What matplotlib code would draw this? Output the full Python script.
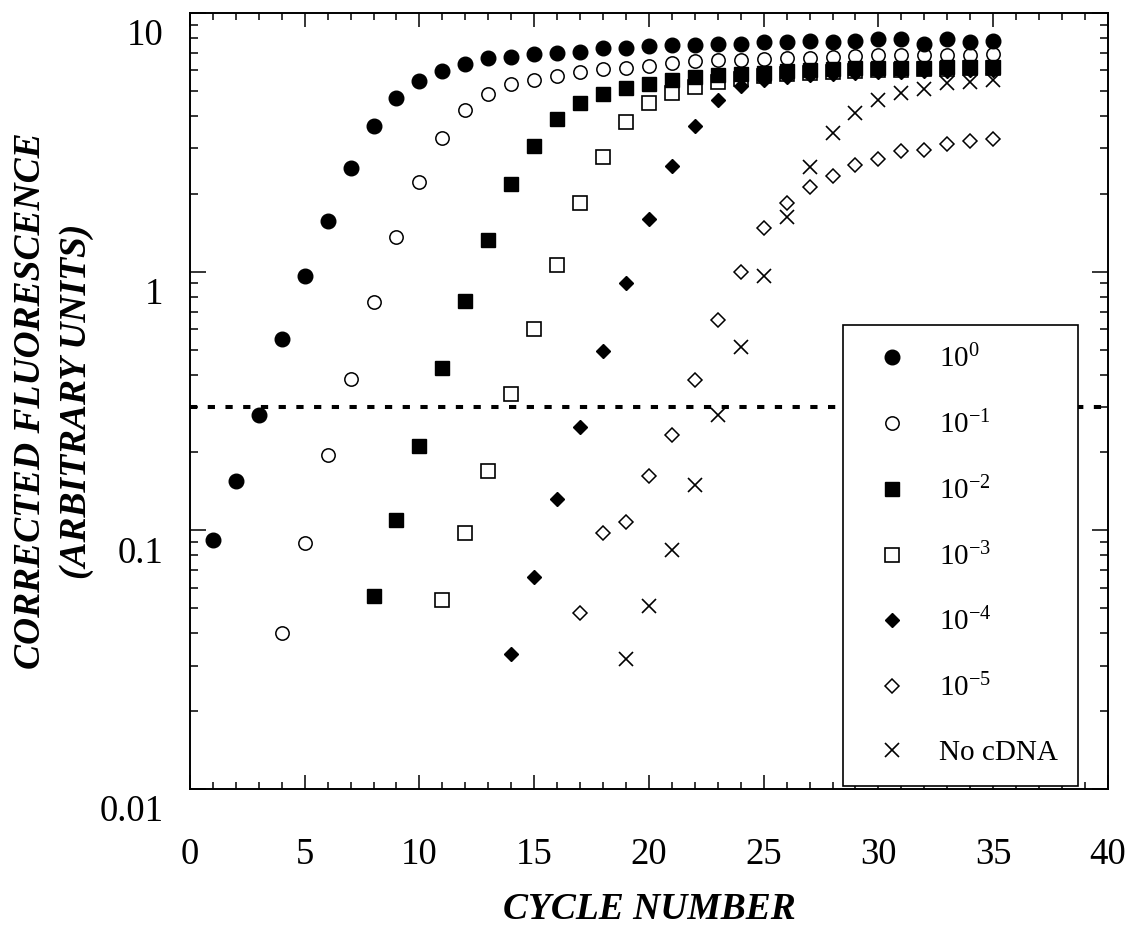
import matplotlib
matplotlib.use('Agg')
import matplotlib.pyplot as plt
from matplotlib.ticker import LogLocator, MultipleLocator, NullFormatter
from matplotlib.transforms import ScaledTranslation

plt.rcParams['font.family'] = ['Liberation Serif', 'DejaVu Serif']
plt.rcParams['mathtext.fontset'] = 'custom'
plt.rcParams['mathtext.rm'] = 'Liberation Serif'
plt.rcParams['mathtext.it'] = 'Liberation Serif:italic'
plt.rcParams['mathtext.bf'] = 'Liberation Serif:bold'

# dilution series, fluorescence per cycle
cyc_0 = list(range(1, 36))
fl_0 = [0.092, 0.155, 0.28, 0.55, 0.965, 1.57, 2.52, 3.66, 4.70, 5.46, 5.97, 6.35,
        6.7, 6.77, 6.95, 7.0, 7.07, 7.3, 7.35, 7.44, 7.5, 7.5, 7.6, 7.6, 7.75, 7.7,
        7.8, 7.75, 7.8, 7.9, 7.9, 7.6, 7.95, 7.75, 7.8]

cyc_1 = list(range(4, 36))
fl_1 = [0.040, 0.089, 0.196, 0.386, 0.766, 1.36, 2.22, 3.3, 4.23, 4.85, 5.3, 5.5,
        5.7, 5.92, 6.05, 6.15, 6.25, 6.43, 6.5, 6.58, 6.6, 6.65, 6.7, 6.72, 6.78,
        6.8, 6.85, 6.85, 6.88, 6.9, 6.9, 6.92]

cyc_2 = list(range(8, 36))
fl_2 = [0.0556, 0.110, 0.212, 0.423, 0.773, 1.33, 2.19, 3.07, 3.89, 4.5, 4.87,
        5.15, 5.3, 5.49, 5.64, 5.76, 5.82, 5.88, 5.97, 6.0, 6.05, 6.1, 6.1, 6.15,
        6.15, 6.2, 6.2, 6.2]

cyc_3 = list(range(11, 36))
fl_3 = [0.054, 0.0977, 0.169, 0.336, 0.60, 1.06, 1.85, 2.78, 3.8, 4.5, 4.89, 5.19,
        5.4, 5.55, 5.7, 5.8, 5.85, 5.9, 5.95, 6.0, 6.0, 6.05, 6.05, 6.1, 6.1]

cyc_4 = list(range(14, 36))
fl_4 = [0.0332, 0.066, 0.132, 0.25, 0.495, 0.90, 1.6, 2.55, 3.64, 4.59, 5.2, 5.5,
        5.65, 5.75, 5.8, 5.85, 5.9, 5.9, 5.95, 5.95, 6.0, 6.0]

cyc_5 = list(range(17, 36))
fl_5 = [0.048, 0.098, 0.108, 0.162, 0.234, 0.38, 0.65, 1.0, 1.47, 1.84, 2.13, 2.34,
        2.58, 2.73, 2.92, 2.96, 3.12, 3.19, 3.27]

cyc_nc = list(range(19, 36))
fl_nc = [0.0318, 0.051, 0.084, 0.15, 0.28, 0.51, 0.96, 1.63, 2.54, 3.43, 4.1, 4.62,
         4.91, 5.08, 5.35, 5.4, 5.52]

labels = ['10$^{0}$', '10$^{-1}$', '10$^{-2}$', '10$^{-3}$', '10$^{-4}$', '10$^{-5}$',
          'No cDNA']
threshold = 0.3

fig = plt.figure(figsize=(11.44, 9.25), dpi=100)
ax = fig.add_axes([0.166, 0.147, 0.8025, 0.839])

ax.axhline(threshold, color='black', lw=2.9, dashes=(1.8, 2.6), zorder=1)

ax.plot(cyc_0, fl_0, 'o', ms=10.5, mfc='black', mec='black', mew=1, ls='none', label=labels[0], zorder=3)
ax.plot(cyc_1, fl_1, 'o', ms=9.6, mfc='white', mec='black', mew=1.1, ls='none', label=labels[1], zorder=2)
ax.plot(cyc_2, fl_2, 's', ms=10, mfc='black', mec='black', mew=1, ls='none', label=labels[2], zorder=3)
ax.plot(cyc_3, fl_3, 's', ms=9.4, mfc='white', mec='black', mew=1.2, ls='none', label=labels[3], zorder=2)
ax.plot(cyc_4, fl_4, 'D', ms=6.8, mfc='black', mec='black', mew=1, ls='none', label=labels[4], zorder=2)
ax.plot(cyc_5, fl_5, 'D', ms=7, mfc='white', mec='black', mew=1.1, ls='none', label=labels[5], zorder=2)
ax.plot(cyc_nc, fl_nc, 'x', ms=9.6, mec='black', mew=1.2, ls='none', label=labels[6], zorder=2)

ax.set_yscale('log')
ax.set_xlim(0, 40)
ax.set_ylim(0.01, 10)

ax.set_xticks(range(0, 41, 5))
ax.xaxis.set_minor_locator(MultipleLocator(1))
ax.set_yticks([0.01, 0.1, 1, 10])
ax.set_yticklabels(['0.01', '0.1', '1', '10'])
ax.yaxis.set_minor_locator(LogLocator(base=10, subs=range(2, 10)))
ax.yaxis.set_minor_formatter(NullFormatter())

ax.tick_params(which='both', direction='in', top=True, right=True, width=1.1,
               labelsize=26.5)
ax.tick_params(axis='x', which='major', length=10, pad=35)
ax.tick_params(axis='x', which='minor', length=5)
ax.tick_params(axis='y', which='major', length=11.5, pad=19)
ax.tick_params(axis='y', which='minor', length=6)
# the y labels sit a little below their ticks in the original
shift = ScaledTranslation(0, -0.19, fig.dpi_scale_trans)
for lab in ax.get_yticklabels():
    lab.set_transform(lab.get_transform() + shift)

for sp in ax.spines.values():
    sp.set_linewidth(1.4)

ax.set_xlabel('CYCLE NUMBER', fontsize=27, fontweight='bold', fontstyle='italic',
              labelpad=14)
ax.set_ylabel('CORRECTED FLUORESCENCE\n(ARBITRARY UNITS)', fontsize=27,
              fontweight='bold', fontstyle='italic', labelpad=4, linespacing=1.4)

leg = ax.legend(loc='lower right', bbox_to_anchor=(0.97, 0.0), fontsize=21,
                numpoints=1, frameon=True, fancybox=False, framealpha=1,
                edgecolor='black', borderpad=0.68, labelspacing=1.28,
                handlelength=2.0, handletextpad=0.6, borderaxespad=0.1)
leg.get_frame().set_linewidth(1.2)
leg.set_zorder(5)

fig.savefig('out.png', dpi=100)
